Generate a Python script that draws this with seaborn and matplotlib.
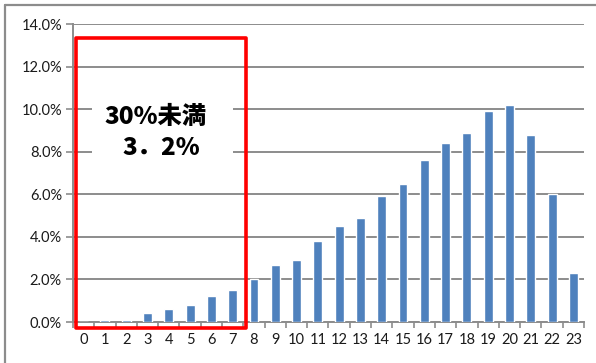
import matplotlib
matplotlib.use("Agg")
import matplotlib.pyplot as plt
from matplotlib.patches import Rectangle
from matplotlib.lines import Line2D
from matplotlib.ticker import FixedLocator, PercentFormatter
import seaborn as sns
import pandas as pd

# Share per category (percent)
categories = [str(i) for i in range(24)]
shares = [0.0, 0.1, 0.1, 0.4, 0.6, 0.8, 1.2, 1.5, 2.0, 2.7, 2.9, 3.8,
          4.5, 4.9, 5.9, 6.5, 7.6, 8.4, 8.9, 9.9, 10.2, 8.8, 6.0, 2.3]
y_ticks = [0, 2, 4, 6, 8, 10, 12, 14]
note_line1 = "30%未満"
note_line2 = "3．2%"

sns.set_theme(style="white")
plt.rcParams["font.family"] = ["Lato", "DejaVu Sans"]

W, H = 596, 363
fig = plt.figure(figsize=(W / 100, H / 100), dpi=100)
ax = fig.add_axes([73 / W, 1 - 322 / H, (584 - 73) / W, (322 - 24) / H])

df = pd.DataFrame({"cat": categories, "share": shares})
sns.barplot(data=df, x="cat", y="share", color="#4F81BD", saturation=1,
            width=0.42, ax=ax, zorder=3)

grid_c = "#8C8C8C"
ax.set_xlim(-0.5, 23.5)
ax.set_ylim(0, 14)
ax.yaxis.set_major_locator(FixedLocator(y_ticks))
ax.yaxis.set_major_formatter(PercentFormatter(decimals=1))
ax.grid(axis="y", color=grid_c, linewidth=1.4, zorder=0)
ax.set_axisbelow(True)
ax.set_xlabel("")
ax.set_ylabel("")

for side in ["top", "right"]:
    ax.spines[side].set_visible(False)
for side in ["left", "bottom"]:
    ax.spines[side].set_color(grid_c)
    ax.spines[side].set_linewidth(1.4)
    ax.spines[side].set_zorder(1)

# category boundaries carry the x tick marks
ax.xaxis.set_minor_locator(FixedLocator([i - 0.5 for i in range(25)]))
ax.tick_params(axis="x", which="major", length=0, labelsize=10.5,
               labelcolor="#1a1a1a", pad=8)
ax.tick_params(axis="x", which="minor", bottom=True, length=4, width=1.2,
               color=grid_c)
ax.tick_params(axis="y", which="major", left=True, length=5, width=1.2,
               color=grid_c, labelsize=10.5, labelcolor="#1a1a1a", pad=3)

# outer chart frame
fig.add_artist(Line2D([5 / W, 5 / W], [0, 1 - 5 / H], transform=fig.transFigure,
                      color="#8C8C8C", linewidth=1.6))
fig.add_artist(Line2D([5 / W, 1], [1 - 5 / H, 1 - 5 / H], transform=fig.transFigure,
                      color="#8C8C8C", linewidth=1.6))

# white text box behind the note
fig.add_artist(Rectangle((92 / W, 1 - 172 / H), (233 - 92) / W, (172 - 82) / H,
                         transform=fig.transFigure, facecolor="white",
                         edgecolor="none", zorder=4))
# red highlight frame
fig.add_artist(Rectangle((76 / W, 1 - 328 / H), (246 - 76) / W, (328 - 38) / H,
                         transform=fig.transFigure, facecolor="none",
                         edgecolor="#FF0000", linewidth=2.6, joinstyle="round",
                         zorder=6))

cjk = ["Noto Sans CJK JP", "DejaVu Sans"]
fig.text(155.5 / W, 1 - 116.5 / H, note_line1, ha="center", va="center",
         fontsize=17.5, fontweight="heavy", family=cjk, color="black", zorder=7)
fig.text(161.5 / W, 1 - 147.5 / H, note_line2, ha="center", va="center",
         fontsize=17.5, fontweight="heavy", family=cjk, color="black", zorder=7)

fig.savefig("out.png", dpi=100)
